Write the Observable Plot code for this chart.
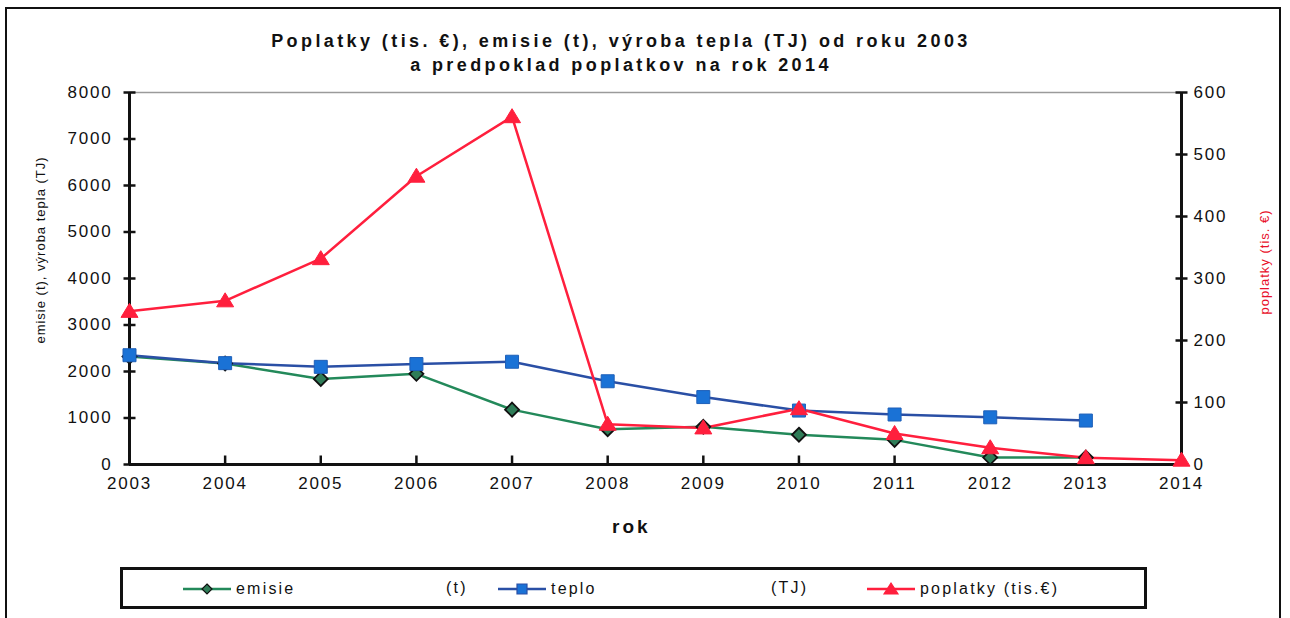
<!DOCTYPE html>
<html><head><meta charset="utf-8">
<script src="https://cdn.jsdelivr.net/npm/d3@7"></script>
<script src="https://cdn.jsdelivr.net/npm/@observablehq/plot@0.6"></script>
<style>
body{margin:0;background:#fff;font-family:"Liberation Sans",Arial,sans-serif;}
#wrap{position:relative;width:1290px;height:618px;overflow:hidden;}
#frame{position:absolute;left:5px;top:7px;width:1276px;height:620px;border:2px solid #111;box-sizing:border-box;}
#title{position:absolute;left:0;top:29px;width:1242px;text-align:center;font-weight:bold;font-size:18px;letter-spacing:3.4px;line-height:24px;color:#111;}
#xlabel{position:absolute;left:612px;top:516px;font-weight:bold;font-size:19px;letter-spacing:3px;color:#111;}
#ylabL{position:absolute;left:40px;top:250px;transform:translate(-50%,-50%) rotate(-90deg);white-space:nowrap;font-size:13px;letter-spacing:1px;color:#111;}
#ylabR{position:absolute;left:1264px;top:262px;transform:translate(-50%,-50%) rotate(-90deg);white-space:nowrap;font-size:13px;letter-spacing:1px;color:#e8102a;}
#legend{position:absolute;left:120px;top:567px;width:1027px;height:42px;border:3px solid #111;box-sizing:border-box;}
.li{position:absolute;top:9px;font-size:16px;letter-spacing:2.2px;color:#111;display:flex;align-items:center;}
#chart{position:absolute;left:0;top:0;}
#chart svg text{letter-spacing:1.8px;}
</style></head>
<body><div id="wrap"><div id="frame"></div><div id="chart"></div>
<div id="title">Poplatky (tis. €), emisie (t), výroba tepla (TJ) od roku 2003<br>a predpoklad poplatkov na rok 2014</div>
<div id="xlabel">rok</div>
<div id="ylabL">emisie (t), výroba tepla (TJ)</div>
<div id="ylabR">poplatky (tis. €)</div>
<div id="legend"></div>
</div>
<script>
const years = [2003,2004,2005,2006,2007,2008,2009,2010,2011,2012,2013,2014];
const emisie = [2320,2170,1840,1950,1180,760,810,640,530,150,150,null];
const teplo = [2350,2180,2100,2160,2210,1790,1450,1160,1075,1015,945,null];
const poplatky = [247,264,332,465,561,65,59,90,50,27,11,7];
const leftTicks = [0,1000,2000,3000,4000,5000,6000,7000,8000];
const rightTicks = [0,100,200,300,400,500,600];
const leftMax = 8000, rightMax = 600;
const k = leftMax / rightMax;

const green = "#23895a", blue = "#2a4fa5", blueFill = "#1a72d6", red = "#ff1f3d";

const rows = (vals, scale=1) => years.map((y,i)=>({year:y, v: vals[i]==null?null:vals[i]*scale})).filter(d=>d.v!=null);
const dE = rows(emisie), dT = rows(teplo), dP = rows(poplatky, k);

const hTick = {draw(ctx){ctx.moveTo(-6,0);ctx.lineTo(6,0);}};
const vTick = {draw(ctx){ctx.moveTo(0,-9);ctx.lineTo(0,0);}};
const rhombus = {draw(ctx){const s=7;ctx.moveTo(0,-s);ctx.lineTo(s,0);ctx.lineTo(0,s);ctx.lineTo(-s,0);ctx.closePath();}};
const sq = {draw(ctx){const s=6.5;ctx.rect(-s,-s,2*s,2*s);}};
const tri = {draw(ctx){ctx.moveTo(0,-8);ctx.lineTo(8.5,6);ctx.lineTo(-8.5,6);ctx.closePath();}};

const chart = Plot.plot({
  width:1290, height:618,
  marginLeft:129, marginRight:109, marginTop:92, marginBottom:154,
  style:{fontFamily:"'Liberation Sans',Arial,sans-serif", fontSize:"17px", color:"#111", background:"transparent"},
  x:{domain:[2003,2014]},
  y:{domain:[0,leftMax]},
  marks:[
    Plot.ruleY([leftMax],{stroke:"#9a9a9a", strokeWidth:1.5}),
    Plot.axisY(leftTicks,{anchor:"left", tickSize:0, tickPadding:17, label:null, tickFormat:d=>String(d), fontSize:17}),
    Plot.axisY(rightTicks.map(v=>v*k),{anchor:"right", tickSize:0, tickPadding:12, label:null, tickFormat:d=>String(Math.round(d/k)), fontSize:17}),
    Plot.axisX(years,{tickSize:0, tickPadding:12, label:null, tickFormat:d=>String(d), fontSize:17}),
    Plot.ruleX([2003],{stroke:"#111", strokeWidth:3}),
    Plot.ruleX([2014],{stroke:"#111", strokeWidth:3}),
    Plot.ruleY([0],{stroke:"#111", strokeWidth:3}),
    Plot.dot(leftTicks,{x:()=>2003, y:d=>d, symbol:hTick, stroke:"#111", strokeWidth:2.5, fill:"none"}),
    Plot.dot(rightTicks,{x:()=>2014, y:d=>d*k, symbol:hTick, stroke:"#111", strokeWidth:2.5, fill:"none"}),
    Plot.dot(years,{x:d=>d, y:()=>0, symbol:vTick, stroke:"#111", strokeWidth:2.5, fill:"none"}),
    Plot.line(dE,{x:"year", y:"v", stroke:green, strokeWidth:2.5}),
    Plot.line(dT,{x:"year", y:"v", stroke:blue, strokeWidth:2.5}),
    Plot.line(dP,{x:"year", y:"v", stroke:red, strokeWidth:2.5}),
    Plot.dot(dE,{x:"year", y:"v", symbol:rhombus, fill:"#2f7d58", stroke:"#111", strokeWidth:1.8}),
    Plot.dot(dT,{x:"year", y:"v", symbol:sq, fill:blueFill, stroke:"#1e5fb8", strokeWidth:1}),
    Plot.dot(dP,{x:"year", y:"v", symbol:tri, fill:red, stroke:red, strokeWidth:1})
  ]
});
document.getElementById("chart").appendChild(chart);

// legend
const legendItems = [
  {label:"emisie", color:green, sym:"diamond", fill:"#2f7d58", x:58},
  {label:"(t)", x:323},
  {label:"teplo", color:blue, sym:"square", fill:blueFill, x:373},
  {label:"(TJ)", x:648},
  {label:"poplatky (tis.€)", color:red, sym:"triangle", fill:red, x:742}
];
const leg = document.getElementById("legend");
const symPath = {diamond:"M0,-5L5,0L0,5L-5,0Z", square:"M-5,-5H5V5H-5Z", triangle:"M0,-6L7,5L-7,5Z"};
legendItems.forEach(it=>{
  const div = document.createElement("div");
  div.className="li"; div.style.left = it.x+"px";
  if(it.color){
    const svg = d3.create("svg").attr("width",52).attr("height",20).style("margin-right","3px");
    svg.append("line").attr("x1",2).attr("x2",50).attr("y1",10).attr("y2",10).attr("stroke",it.color).attr("stroke-width",2.5);
    svg.append("path").attr("d",symPath[it.sym]).attr("transform","translate(26,10)").attr("fill",it.fill).attr("stroke",it.sym==="diamond"?"#111":it.color).attr("stroke-width",1.2);
    div.appendChild(svg.node());
  }
  const span = document.createElement("span"); span.textContent = it.label;
  div.appendChild(span);
  leg.appendChild(div);
});
</script>
</body></html>
